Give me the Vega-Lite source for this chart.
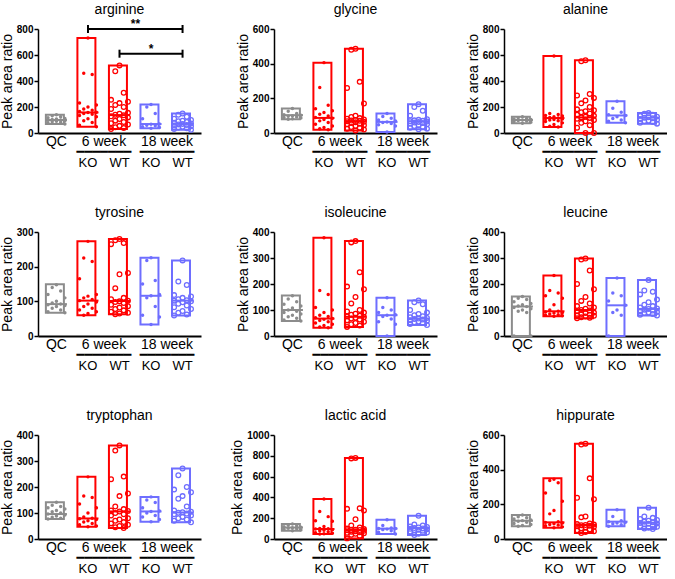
{
"$schema": "https://vega.github.io/schema/vega-lite/v6.json",
"padding": {"left": 0, "top": 3, "right": 0, "bottom": 0},
"columns": 3,
"spacing": {"row": 37, "column": 29},
"datasets": {
"box": [
{"m":"arginine","g":"Q","lo":70,"hi":140,"med":100},{"m":"arginine","g":"K6","lo":48,"hi":731,"med":158},{"m":"arginine","g":"W6","lo":30,"hi":520,"med":138},{"m":"arginine","g":"K18","lo":36,"hi":220,"med":69},{"m":"arginine","g":"W18","lo":25,"hi":150,"med":70},
{"m":"glycine","g":"Q","lo":79,"hi":141,"med":103},{"m":"glycine","g":"K6","lo":19,"hi":406,"med":87},{"m":"glycine","g":"W6","lo":15,"hi":486,"med":68},{"m":"glycine","g":"K18","lo":6,"hi":112,"med":64},{"m":"glycine","g":"W18","lo":21,"hi":166,"med":68},
{"m":"alanine","g":"Q","lo":75,"hi":125,"med":100},{"m":"alanine","g":"K6","lo":46,"hi":592,"med":115},{"m":"alanine","g":"W6","lo":0,"hi":560,"med":120},{"m":"alanine","g":"K18","lo":79,"hi":245,"med":135},{"m":"alanine","g":"W18","lo":72,"hi":153,"med":118},
{"m":"tyrosine","g":"Q","lo":67,"hi":149,"med":92},{"m":"tyrosine","g":"K6","lo":60,"hi":273,"med":102},{"m":"tyrosine","g":"W6","lo":63,"hi":280,"med":101},{"m":"tyrosine","g":"K18","lo":33,"hi":226,"med":116},{"m":"tyrosine","g":"W18","lo":59,"hi":218,"med":102},
{"m":"isoleucine","g":"Q","lo":58,"hi":156,"med":100},{"m":"isoleucine","g":"K6","lo":32,"hi":378,"med":67},{"m":"isoleucine","g":"W6","lo":35,"hi":365,"med":74},{"m":"isoleucine","g":"K18","lo":0,"hi":147,"med":80},{"m":"isoleucine","g":"W18","lo":42,"hi":137,"med":67},
{"m":"leucine","g":"Q","lo":0,"hi":152,"med":113},{"m":"leucine","g":"K6","lo":76,"hi":233,"med":95},{"m":"leucine","g":"W6","lo":68,"hi":298,"med":100},{"m":"leucine","g":"K18","lo":0,"hi":223,"med":118},{"m":"leucine","g":"W18","lo":79,"hi":215,"med":104},
{"m":"tryptophan","g":"Q","lo":77,"hi":141,"med":96},{"m":"tryptophan","g":"K6","lo":47,"hi":239,"med":79},{"m":"tryptophan","g":"W6","lo":42,"hi":360,"med":106},{"m":"tryptophan","g":"K18","lo":66,"hi":162,"med":106},{"m":"tryptophan","g":"W18","lo":64,"hi":271,"med":102},
{"m":"lactic","g":"Q","lo":80,"hi":144,"med":110},{"m":"lactic","g":"K6","lo":48,"hi":385,"med":96},{"m":"lactic","g":"W6","lo":6,"hi":780,"med":87},{"m":"lactic","g":"K18","lo":48,"hi":186,"med":100},{"m":"lactic","g":"W18","lo":38,"hi":224,"med":106},
{"m":"hippurate","g":"Q","lo":73,"hi":138,"med":106},{"m":"hippurate","g":"K6","lo":65,"hi":350,"med":96},{"m":"hippurate","g":"W6","lo":35,"hi":550,"med":81},{"m":"hippurate","g":"K18","lo":73,"hi":169,"med":100},{"m":"hippurate","g":"W18","lo":58,"hi":181,"med":94}
],
"sig": [{"a":"K6","b":"W18","y":800,"t":"**","c":"W6"},{"a":"W6","b":"W18","y":610,"t":"*","c":"K18"}],
"arginine": [
{"g":"Q","v":140},{"g":"Q","v":132},{"g":"Q","v":125},{"g":"Q","v":118},{"g":"Q","v":112},{"g":"Q","v":108},{"g":"Q","v":104},{"g":"Q","v":100},{"g":"Q","v":97},{"g":"Q","v":94},{"g":"Q","v":90},{"g":"Q","v":86},{"g":"Q","v":82},{"g":"Q","v":76},{"g":"Q","v":70},
{"g":"K6","v":731},{"g":"K6","v":460},{"g":"K6","v":450},{"g":"K6","v":230},{"g":"K6","v":215},{"g":"K6","v":200},{"g":"K6","v":185},{"g":"K6","v":175},{"g":"K6","v":165},{"g":"K6","v":160},{"g":"K6","v":158},{"g":"K6","v":150},{"g":"K6","v":145},{"g":"K6","v":135},{"g":"K6","v":125},{"g":"K6","v":110},{"g":"K6","v":95},{"g":"K6","v":80},{"g":"K6","v":60},{"g":"K6","v":48},
{"g":"W6","v":520},{"g":"W6","v":475},{"g":"W6","v":310},{"g":"W6","v":255},{"g":"W6","v":240},{"g":"W6","v":230},{"g":"W6","v":215},{"g":"W6","v":200},{"g":"W6","v":185},{"g":"W6","v":155},{"g":"W6","v":148},{"g":"W6","v":140},{"g":"W6","v":136},{"g":"W6","v":128},{"g":"W6","v":120},{"g":"W6","v":108},{"g":"W6","v":95},{"g":"W6","v":85},{"g":"W6","v":75},{"g":"W6","v":65},{"g":"W6","v":55},{"g":"W6","v":45},{"g":"W6","v":38},{"g":"W6","v":30},
{"g":"K18","v":220},{"g":"K18","v":200},{"g":"K18","v":150},{"g":"K18","v":110},{"g":"K18","v":70},{"g":"K18","v":68},{"g":"K18","v":60},{"g":"K18","v":55},{"g":"K18","v":48},{"g":"K18","v":42},{"g":"K18","v":36},
{"g":"W18","v":150},{"g":"W18","v":140},{"g":"W18","v":125},{"g":"W18","v":110},{"g":"W18","v":100},{"g":"W18","v":95},{"g":"W18","v":90},{"g":"W18","v":85},{"g":"W18","v":78},{"g":"W18","v":74},{"g":"W18","v":70},{"g":"W18","v":66},{"g":"W18","v":62},{"g":"W18","v":58},{"g":"W18","v":52},{"g":"W18","v":48},{"g":"W18","v":42},{"g":"W18","v":36},{"g":"W18","v":30},{"g":"W18","v":25}
],
"glycine": [
{"g":"Q","v":141},{"g":"Q","v":125},{"g":"Q","v":112},{"g":"Q","v":106},{"g":"Q","v":103},{"g":"Q","v":100},{"g":"Q","v":97},{"g":"Q","v":93},{"g":"Q","v":90},{"g":"Q","v":86},{"g":"Q","v":82},{"g":"Q","v":79},
{"g":"K6","v":406},{"g":"K6","v":262},{"g":"K6","v":160},{"g":"K6","v":140},{"g":"K6","v":128},{"g":"K6","v":118},{"g":"K6","v":108},{"g":"K6","v":98},{"g":"K6","v":90},{"g":"K6","v":85},{"g":"K6","v":78},{"g":"K6","v":70},{"g":"K6","v":60},{"g":"K6","v":50},{"g":"K6","v":40},{"g":"K6","v":32},{"g":"K6","v":25},{"g":"K6","v":19},
{"g":"W6","v":486},{"g":"W6","v":480},{"g":"W6","v":295},{"g":"W6","v":260},{"g":"W6","v":170},{"g":"W6","v":100},{"g":"W6","v":92},{"g":"W6","v":86},{"g":"W6","v":82},{"g":"W6","v":78},{"g":"W6","v":75},{"g":"W6","v":72},{"g":"W6","v":70},{"g":"W6","v":68},{"g":"W6","v":65},{"g":"W6","v":62},{"g":"W6","v":58},{"g":"W6","v":54},{"g":"W6","v":50},{"g":"W6","v":45},{"g":"W6","v":40},{"g":"W6","v":35},{"g":"W6","v":30},{"g":"W6","v":25},{"g":"W6","v":20},{"g":"W6","v":15},
{"g":"K18","v":112},{"g":"K18","v":95},{"g":"K18","v":85},{"g":"K18","v":75},{"g":"K18","v":70},{"g":"K18","v":64},{"g":"K18","v":60},{"g":"K18","v":55},{"g":"K18","v":48},{"g":"K18","v":40},{"g":"K18","v":6},
{"g":"W18","v":166},{"g":"W18","v":150},{"g":"W18","v":128},{"g":"W18","v":100},{"g":"W18","v":80},{"g":"W18","v":76},{"g":"W18","v":73},{"g":"W18","v":70},{"g":"W18","v":68},{"g":"W18","v":66},{"g":"W18","v":63},{"g":"W18","v":60},{"g":"W18","v":57},{"g":"W18","v":54},{"g":"W18","v":50},{"g":"W18","v":45},{"g":"W18","v":40},{"g":"W18","v":35},{"g":"W18","v":30},{"g":"W18","v":25},{"g":"W18","v":21}
],
"alanine": [
{"g":"Q","v":125},{"g":"Q","v":118},{"g":"Q","v":112},{"g":"Q","v":108},{"g":"Q","v":104},{"g":"Q","v":100},{"g":"Q","v":96},{"g":"Q","v":92},{"g":"Q","v":88},{"g":"Q","v":82},{"g":"Q","v":75},
{"g":"K6","v":592},{"g":"K6","v":150},{"g":"K6","v":142},{"g":"K6","v":135},{"g":"K6","v":130},{"g":"K6","v":125},{"g":"K6","v":120},{"g":"K6","v":116},{"g":"K6","v":112},{"g":"K6","v":108},{"g":"K6","v":104},{"g":"K6","v":100},{"g":"K6","v":95},{"g":"K6","v":88},{"g":"K6","v":78},{"g":"K6","v":65},{"g":"K6","v":52},{"g":"K6","v":46},
{"g":"W6","v":560},{"g":"W6","v":552},{"g":"W6","v":300},{"g":"W6","v":288},{"g":"W6","v":270},{"g":"W6","v":250},{"g":"W6","v":228},{"g":"W6","v":200},{"g":"W6","v":182},{"g":"W6","v":175},{"g":"W6","v":168},{"g":"W6","v":160},{"g":"W6","v":150},{"g":"W6","v":140},{"g":"W6","v":132},{"g":"W6","v":125},{"g":"W6","v":120},{"g":"W6","v":116},{"g":"W6","v":110},{"g":"W6","v":100},{"g":"W6","v":90},{"g":"W6","v":78},{"g":"W6","v":60},{"g":"W6","v":40},{"g":"W6","v":0},{"g":"W6","v":0},
{"g":"K18","v":245},{"g":"K18","v":190},{"g":"K18","v":160},{"g":"K18","v":140},{"g":"K18","v":135},{"g":"K18","v":125},{"g":"K18","v":112},{"g":"K18","v":100},{"g":"K18","v":90},{"g":"K18","v":79},
{"g":"W18","v":153},{"g":"W18","v":148},{"g":"W18","v":140},{"g":"W18","v":132},{"g":"W18","v":126},{"g":"W18","v":121},{"g":"W18","v":118},{"g":"W18","v":114},{"g":"W18","v":108},{"g":"W18","v":102},{"g":"W18","v":96},{"g":"W18","v":90},{"g":"W18","v":84},{"g":"W18","v":78},{"g":"W18","v":72}
],
"tyrosine": [
{"g":"Q","v":148},{"g":"Q","v":140},{"g":"Q","v":130},{"g":"Q","v":120},{"g":"Q","v":110},{"g":"Q","v":100},{"g":"Q","v":95},{"g":"Q","v":92},{"g":"Q","v":90},{"g":"Q","v":88},{"g":"Q","v":85},{"g":"Q","v":80},{"g":"Q","v":75},{"g":"Q","v":70},{"g":"Q","v":67},
{"g":"K6","v":273},{"g":"K6","v":225},{"g":"K6","v":215},{"g":"K6","v":165},{"g":"K6","v":120},{"g":"K6","v":115},{"g":"K6","v":110},{"g":"K6","v":105},{"g":"K6","v":102},{"g":"K6","v":98},{"g":"K6","v":92},{"g":"K6","v":85},{"g":"K6","v":80},{"g":"K6","v":75},{"g":"K6","v":70},{"g":"K6","v":65},{"g":"K6","v":60},
{"g":"W6","v":280},{"g":"W6","v":276},{"g":"W6","v":268},{"g":"W6","v":265},{"g":"W6","v":182},{"g":"W6","v":178},{"g":"W6","v":138},{"g":"W6","v":110},{"g":"W6","v":106},{"g":"W6","v":102},{"g":"W6","v":100},{"g":"W6","v":98},{"g":"W6","v":95},{"g":"W6","v":90},{"g":"W6","v":86},{"g":"W6","v":82},{"g":"W6","v":78},{"g":"W6","v":74},{"g":"W6","v":70},{"g":"W6","v":67},{"g":"W6","v":65},{"g":"W6","v":63},
{"g":"K18","v":226},{"g":"K18","v":218},{"g":"K18","v":160},{"g":"K18","v":150},{"g":"K18","v":120},{"g":"K18","v":116},{"g":"K18","v":110},{"g":"K18","v":85},{"g":"K18","v":60},{"g":"K18","v":55},{"g":"K18","v":33},
{"g":"W18","v":218},{"g":"W18","v":157},{"g":"W18","v":147},{"g":"W18","v":118},{"g":"W18","v":114},{"g":"W18","v":110},{"g":"W18","v":106},{"g":"W18","v":103},{"g":"W18","v":102},{"g":"W18","v":100},{"g":"W18","v":97},{"g":"W18","v":93},{"g":"W18","v":88},{"g":"W18","v":83},{"g":"W18","v":78},{"g":"W18","v":72},{"g":"W18","v":67},{"g":"W18","v":62},{"g":"W18","v":59}
],
"isoleucine": [
{"g":"Q","v":155},{"g":"Q","v":142},{"g":"Q","v":132},{"g":"Q","v":122},{"g":"Q","v":115},{"g":"Q","v":108},{"g":"Q","v":100},{"g":"Q","v":95},{"g":"Q","v":90},{"g":"Q","v":85},{"g":"Q","v":80},{"g":"Q","v":74},{"g":"Q","v":68},{"g":"Q","v":62},{"g":"Q","v":58},
{"g":"K6","v":378},{"g":"K6","v":175},{"g":"K6","v":160},{"g":"K6","v":110},{"g":"K6","v":100},{"g":"K6","v":90},{"g":"K6","v":80},{"g":"K6","v":75},{"g":"K6","v":70},{"g":"K6","v":67},{"g":"K6","v":64},{"g":"K6","v":60},{"g":"K6","v":55},{"g":"K6","v":50},{"g":"K6","v":45},{"g":"K6","v":40},{"g":"K6","v":35},{"g":"K6","v":32},
{"g":"W6","v":365},{"g":"W6","v":360},{"g":"W6","v":245},{"g":"W6","v":190},{"g":"W6","v":180},{"g":"W6","v":150},{"g":"W6","v":125},{"g":"W6","v":100},{"g":"W6","v":94},{"g":"W6","v":90},{"g":"W6","v":86},{"g":"W6","v":82},{"g":"W6","v":78},{"g":"W6","v":75},{"g":"W6","v":73},{"g":"W6","v":70},{"g":"W6","v":67},{"g":"W6","v":63},{"g":"W6","v":60},{"g":"W6","v":55},{"g":"W6","v":50},{"g":"W6","v":45},{"g":"W6","v":40},{"g":"W6","v":35},
{"g":"K18","v":147},{"g":"K18","v":110},{"g":"K18","v":100},{"g":"K18","v":90},{"g":"K18","v":82},{"g":"K18","v":80},{"g":"K18","v":75},{"g":"K18","v":65},{"g":"K18","v":55},{"g":"K18","v":45},{"g":"K18","v":0},
{"g":"W18","v":137},{"g":"W18","v":130},{"g":"W18","v":122},{"g":"W18","v":100},{"g":"W18","v":90},{"g":"W18","v":85},{"g":"W18","v":80},{"g":"W18","v":76},{"g":"W18","v":72},{"g":"W18","v":69},{"g":"W18","v":67},{"g":"W18","v":65},{"g":"W18","v":63},{"g":"W18","v":61},{"g":"W18","v":59},{"g":"W18","v":56},{"g":"W18","v":53},{"g":"W18","v":50},{"g":"W18","v":46},{"g":"W18","v":42}
],
"leucine": [
{"g":"Q","v":152},{"g":"Q","v":145},{"g":"Q","v":140},{"g":"Q","v":132},{"g":"Q","v":125},{"g":"Q","v":120},{"g":"Q","v":115},{"g":"Q","v":113},{"g":"Q","v":110},{"g":"Q","v":105},{"g":"Q","v":100},{"g":"Q","v":95},{"g":"Q","v":90},{"g":"Q","v":0},{"g":"Q","v":0},
{"g":"K6","v":233},{"g":"K6","v":175},{"g":"K6","v":165},{"g":"K6","v":155},{"g":"K6","v":145},{"g":"K6","v":120},{"g":"K6","v":100},{"g":"K6","v":95},{"g":"K6","v":92},{"g":"K6","v":90},{"g":"K6","v":88},{"g":"K6","v":85},{"g":"K6","v":82},{"g":"K6","v":80},{"g":"K6","v":78},{"g":"K6","v":76},
{"g":"W6","v":298},{"g":"W6","v":294},{"g":"W6","v":252},{"g":"W6","v":200},{"g":"W6","v":180},{"g":"W6","v":150},{"g":"W6","v":135},{"g":"W6","v":125},{"g":"W6","v":115},{"g":"W6","v":110},{"g":"W6","v":105},{"g":"W6","v":100},{"g":"W6","v":98},{"g":"W6","v":95},{"g":"W6","v":90},{"g":"W6","v":88},{"g":"W6","v":85},{"g":"W6","v":82},{"g":"W6","v":80},{"g":"W6","v":78},{"g":"W6","v":75},{"g":"W6","v":72},{"g":"W6","v":70},{"g":"W6","v":68},
{"g":"K18","v":223},{"g":"K18","v":165},{"g":"K18","v":155},{"g":"K18","v":135},{"g":"K18","v":118},{"g":"K18","v":100},{"g":"K18","v":90},{"g":"K18","v":80},{"g":"K18","v":0},
{"g":"W18","v":215},{"g":"W18","v":175},{"g":"W18","v":170},{"g":"W18","v":160},{"g":"W18","v":140},{"g":"W18","v":130},{"g":"W18","v":120},{"g":"W18","v":115},{"g":"W18","v":110},{"g":"W18","v":106},{"g":"W18","v":104},{"g":"W18","v":101},{"g":"W18","v":98},{"g":"W18","v":95},{"g":"W18","v":92},{"g":"W18","v":90},{"g":"W18","v":88},{"g":"W18","v":85},{"g":"W18","v":82},{"g":"W18","v":79}
],
"tryptophan": [
{"g":"Q","v":141},{"g":"Q","v":130},{"g":"Q","v":125},{"g":"Q","v":120},{"g":"Q","v":115},{"g":"Q","v":110},{"g":"Q","v":105},{"g":"Q","v":100},{"g":"Q","v":96},{"g":"Q","v":92},{"g":"Q","v":88},{"g":"Q","v":84},{"g":"Q","v":80},{"g":"Q","v":77},
{"g":"K6","v":239},{"g":"K6","v":165},{"g":"K6","v":160},{"g":"K6","v":135},{"g":"K6","v":120},{"g":"K6","v":100},{"g":"K6","v":85},{"g":"K6","v":80},{"g":"K6","v":78},{"g":"K6","v":75},{"g":"K6","v":70},{"g":"K6","v":65},{"g":"K6","v":60},{"g":"K6","v":55},{"g":"K6","v":50},{"g":"K6","v":47},
{"g":"W6","v":360},{"g":"W6","v":340},{"g":"W6","v":240},{"g":"W6","v":230},{"g":"W6","v":175},{"g":"W6","v":165},{"g":"W6","v":125},{"g":"W6","v":115},{"g":"W6","v":110},{"g":"W6","v":108},{"g":"W6","v":106},{"g":"W6","v":100},{"g":"W6","v":95},{"g":"W6","v":90},{"g":"W6","v":80},{"g":"W6","v":75},{"g":"W6","v":70},{"g":"W6","v":65},{"g":"W6","v":60},{"g":"W6","v":55},{"g":"W6","v":50},{"g":"W6","v":45},{"g":"W6","v":42},
{"g":"K18","v":162},{"g":"K18","v":150},{"g":"K18","v":140},{"g":"K18","v":120},{"g":"K18","v":108},{"g":"K18","v":106},{"g":"K18","v":100},{"g":"K18","v":90},{"g":"K18","v":85},{"g":"K18","v":75},{"g":"K18","v":66},
{"g":"W18","v":271},{"g":"W18","v":245},{"g":"W18","v":200},{"g":"W18","v":190},{"g":"W18","v":180},{"g":"W18","v":165},{"g":"W18","v":155},{"g":"W18","v":125},{"g":"W18","v":110},{"g":"W18","v":105},{"g":"W18","v":103},{"g":"W18","v":101},{"g":"W18","v":98},{"g":"W18","v":95},{"g":"W18","v":90},{"g":"W18","v":85},{"g":"W18","v":80},{"g":"W18","v":75},{"g":"W18","v":70},{"g":"W18","v":64}
],
"lactic": [
{"g":"Q","v":144},{"g":"Q","v":132},{"g":"Q","v":124},{"g":"Q","v":118},{"g":"Q","v":112},{"g":"Q","v":108},{"g":"Q","v":104},{"g":"Q","v":98},{"g":"Q","v":92},{"g":"Q","v":86},{"g":"Q","v":80},
{"g":"K6","v":385},{"g":"K6","v":265},{"g":"K6","v":215},{"g":"K6","v":175},{"g":"K6","v":170},{"g":"K6","v":120},{"g":"K6","v":100},{"g":"K6","v":98},{"g":"K6","v":96},{"g":"K6","v":90},{"g":"K6","v":85},{"g":"K6","v":80},{"g":"K6","v":70},{"g":"K6","v":60},{"g":"K6","v":55},{"g":"K6","v":50},{"g":"K6","v":48},
{"g":"W6","v":780},{"g":"W6","v":775},{"g":"W6","v":295},{"g":"W6","v":290},{"g":"W6","v":275},{"g":"W6","v":190},{"g":"W6","v":130},{"g":"W6","v":110},{"g":"W6","v":100},{"g":"W6","v":95},{"g":"W6","v":90},{"g":"W6","v":88},{"g":"W6","v":87},{"g":"W6","v":85},{"g":"W6","v":80},{"g":"W6","v":75},{"g":"W6","v":70},{"g":"W6","v":65},{"g":"W6","v":60},{"g":"W6","v":55},{"g":"W6","v":50},{"g":"W6","v":40},{"g":"W6","v":30},{"g":"W6","v":6},
{"g":"K18","v":186},{"g":"K18","v":130},{"g":"K18","v":105},{"g":"K18","v":100},{"g":"K18","v":100},{"g":"K18","v":95},{"g":"K18","v":90},{"g":"K18","v":80},{"g":"K18","v":65},{"g":"K18","v":48},
{"g":"W18","v":224},{"g":"W18","v":140},{"g":"W18","v":130},{"g":"W18","v":120},{"g":"W18","v":115},{"g":"W18","v":110},{"g":"W18","v":106},{"g":"W18","v":102},{"g":"W18","v":98},{"g":"W18","v":94},{"g":"W18","v":90},{"g":"W18","v":85},{"g":"W18","v":80},{"g":"W18","v":72},{"g":"W18","v":62},{"g":"W18","v":50},{"g":"W18","v":38}
],
"hippurate": [
{"g":"Q","v":138},{"g":"Q","v":128},{"g":"Q","v":122},{"g":"Q","v":116},{"g":"Q","v":110},{"g":"Q","v":106},{"g":"Q","v":102},{"g":"Q","v":96},{"g":"Q","v":90},{"g":"Q","v":84},{"g":"Q","v":78},{"g":"Q","v":73},
{"g":"K6","v":345},{"g":"K6","v":338},{"g":"K6","v":325},{"g":"K6","v":265},{"g":"K6","v":218},{"g":"K6","v":165},{"g":"K6","v":145},{"g":"K6","v":100},{"g":"K6","v":96},{"g":"K6","v":92},{"g":"K6","v":88},{"g":"K6","v":84},{"g":"K6","v":80},{"g":"K6","v":76},{"g":"K6","v":70},{"g":"K6","v":65},
{"g":"W6","v":550},{"g":"W6","v":545},{"g":"W6","v":350},{"g":"W6","v":238},{"g":"W6","v":230},{"g":"W6","v":130},{"g":"W6","v":125},{"g":"W6","v":90},{"g":"W6","v":86},{"g":"W6","v":83},{"g":"W6","v":81},{"g":"W6","v":79},{"g":"W6","v":77},{"g":"W6","v":74},{"g":"W6","v":71},{"g":"W6","v":67},{"g":"W6","v":62},{"g":"W6","v":56},{"g":"W6","v":50},{"g":"W6","v":45},{"g":"W6","v":40},{"g":"W6","v":35},
{"g":"K18","v":169},{"g":"K18","v":130},{"g":"K18","v":105},{"g":"K18","v":100},{"g":"K18","v":96},{"g":"K18","v":92},{"g":"K18","v":88},{"g":"K18","v":82},{"g":"K18","v":73},
{"g":"W18","v":181},{"g":"W18","v":130},{"g":"W18","v":122},{"g":"W18","v":116},{"g":"W18","v":110},{"g":"W18","v":105},{"g":"W18","v":100},{"g":"W18","v":96},{"g":"W18","v":93},{"g":"W18","v":90},{"g":"W18","v":88},{"g":"W18","v":85},{"g":"W18","v":80},{"g":"W18","v":75},{"g":"W18","v":70},{"g":"W18","v":65},{"g":"W18","v":60},{"g":"W18","v":58}
]
},
"concat": [
{"title": {"text": "arginine", "offset": 1}, "width": 163, "height": 104, "resolve": {"axis": {"x": "independent"}},
 "layer": [
  {"data": {"name": "box"}, "transform": [{"filter": "datum.m=='arginine'"}], "mark": {"type": "bar", "filled": false, "strokeWidth": 2},
   "encoding": {"x": {"field": "g", "type": "nominal", "scale": {"domain": ["Q","K6","W6","K18","W18"], "paddingInner": 0.33, "paddingOuter": 0.25}, "axis": {"orient": "bottom", "title": null, "domain": true, "domainWidth": 2, "labelFontSize": 14, "labelPadding": 1, "labelExpr": "datum.value=='Q' ? 'QC' : datum.value=='K6' ? '6 week' : datum.value=='K18' ? '18 week' : ''", "labelOffset": {"condition": {"test": "datum.value=='Q'", "value": 0}, "value": 16}}},
    "y": {"field": "lo", "type": "quantitative", "title": "Peak area ratio", "scale": {"domain": [0, 800], "nice": false}, "axis": {"format": "d"}}, "y2": {"field": "hi"},
    "color": {"field": "g", "type": "nominal", "scale": {"domain": ["Q","K6","W6","K18","W18"], "range": ["#8c8c8c","#ff0000","#ff0000","#6e6eff","#6e6eff"]}}}},
  {"data": {"name": "box"}, "transform": [{"filter": "datum.m=='arginine'"}], "mark": {"type": "tick", "thickness": 2, "size": 21, "opacity": 1},
   "encoding": {"x": {"field": "g", "type": "nominal", "axis": {"orient": "bottom", "title": null, "offset": 10, "labelPadding": 2, "labelFont": "DejaVu Sans", "labelFontSize": 13, "labelOffset": 16, "labelExpr": "datum.value=='K6' || datum.value=='K18' ? '━━━━━━━' : ''"}}, "y": {"field": "med", "type": "quantitative", "title": "Peak area ratio"}, "color": {"field": "g", "type": "nominal"}}},
  {"data": {"name": "arginine"}, "transform": [{"filter": "datum.g!='W6' && datum.g!='W18'"}, {"window": [{"op": "row_number", "as": "r"}], "groupby": ["g"], "sort": [{"field": "v", "order": "descending"}]}, {"calculate": "(datum.r-1)%5", "as": "j"}], "mark": {"type": "point", "shape": "circle", "filled": true, "size": 12, "opacity": 1},
   "encoding": {"x": {"field": "g", "type": "nominal", "axis": null}, "xOffset": {"field": "j", "type": "nominal", "scale": {"domain": [3,1,0,2,4]}}, "y": {"field": "v", "type": "quantitative", "title": "Peak area ratio"}, "color": {"field": "g", "type": "nominal"}}},
  {"data": {"name": "arginine"}, "transform": [{"filter": "datum.g=='W6' || datum.g=='W18'"}, {"window": [{"op": "row_number", "as": "r"}], "groupby": ["g"], "sort": [{"field": "v", "order": "descending"}]}, {"calculate": "(datum.r-1)%5", "as": "j"}], "mark": {"type": "point", "shape": "circle", "filled": false, "size": 22, "strokeWidth": 1.3, "opacity": 1},
   "encoding": {"x": {"field": "g", "type": "nominal", "axis": {"orient": "bottom", "title": null, "offset": 21, "labelPadding": 2, "labelFontSize": 13, "labelExpr": "datum.value=='Q' ? '' : (datum.value=='K6' || datum.value=='K18') ? 'KO' : 'WT'"}}, "xOffset": {"field": "j", "type": "nominal"}, "y": {"field": "v", "type": "quantitative", "title": "Peak area ratio"}, "color": {"field": "g", "type": "nominal"}}},
  {"data": {"name": "sig"}, "mark": {"type": "rule", "strokeWidth": 2, "color": "black"},
   "encoding": {"x": {"field": "a", "type": "nominal", "axis": null}, "x2": {"field": "b"}, "y": {"field": "y", "type": "quantitative", "title": "Peak area ratio"}}},
  {"data": {"name": "sig"}, "transform": [{"fold": ["a","b"], "as": ["k","gg"]}], "mark": {"type": "point", "shape": "M0,-1L0,1", "size": 64, "strokeWidth": 2, "color": "black", "filled": false, "opacity": 1},
   "encoding": {"x": {"field": "gg", "type": "nominal", "axis": null}, "y": {"field": "y", "type": "quantitative", "title": "Peak area ratio"}}},
  {"data": {"name": "sig"}, "transform": [{"filter": "datum.t=='**'"}], "mark": {"type": "text", "dx": 16, "dy": -1, "baseline": "alphabetic", "fontSize": 12, "fontWeight": "bold", "color": "black"},
   "encoding": {"x": {"field": "c", "type": "nominal", "axis": null}, "y": {"field": "y", "type": "quantitative", "title": "Peak area ratio"}, "text": {"field": "t"}}},
  {"data": {"name": "sig"}, "transform": [{"filter": "datum.t=='*'"}], "mark": {"type": "text", "dx": 0, "dy": -1, "baseline": "alphabetic", "fontSize": 12, "fontWeight": "bold", "color": "black"},
   "encoding": {"x": {"field": "c", "type": "nominal", "axis": null}, "y": {"field": "y", "type": "quantitative", "title": "Peak area ratio"}, "text": {"field": "t"}}}
 ]},
{"title": "glycine", "width": 163, "height": 104, "resolve": {"axis": {"x": "independent"}},
 "layer": [
  {"data": {"name": "box"}, "transform": [{"filter": "datum.m=='glycine'"}], "mark": {"type": "bar", "filled": false, "strokeWidth": 2},
   "encoding": {"x": {"field": "g", "type": "nominal", "scale": {"domain": ["Q","K6","W6","K18","W18"], "paddingInner": 0.33, "paddingOuter": 0.25}, "axis": {"orient": "bottom", "title": null, "domain": true, "domainWidth": 2, "labelFontSize": 14, "labelPadding": 1, "labelExpr": "datum.value=='Q' ? 'QC' : datum.value=='K6' ? '6 week' : datum.value=='K18' ? '18 week' : ''", "labelOffset": {"condition": {"test": "datum.value=='Q'", "value": 0}, "value": 16}}},
    "y": {"field": "lo", "type": "quantitative", "title": "Peak area ratio", "scale": {"domain": [0, 600], "nice": false}, "axis": {"format": "d"}}, "y2": {"field": "hi"},
    "color": {"field": "g", "type": "nominal", "scale": {"domain": ["Q","K6","W6","K18","W18"], "range": ["#8c8c8c","#ff0000","#ff0000","#6e6eff","#6e6eff"]}}}},
  {"data": {"name": "box"}, "transform": [{"filter": "datum.m=='glycine'"}], "mark": {"type": "tick", "thickness": 2, "size": 21, "opacity": 1},
   "encoding": {"x": {"field": "g", "type": "nominal", "axis": {"orient": "bottom", "title": null, "offset": 10, "labelPadding": 2, "labelFont": "DejaVu Sans", "labelFontSize": 13, "labelOffset": 16, "labelExpr": "datum.value=='K6' || datum.value=='K18' ? '━━━━━━━' : ''"}}, "y": {"field": "med", "type": "quantitative", "title": "Peak area ratio"}, "color": {"field": "g", "type": "nominal"}}},
  {"data": {"name": "glycine"}, "transform": [{"filter": "datum.g!='W6' && datum.g!='W18'"}, {"window": [{"op": "row_number", "as": "r"}], "groupby": ["g"], "sort": [{"field": "v", "order": "descending"}]}, {"calculate": "(datum.r-1)%5", "as": "j"}], "mark": {"type": "point", "shape": "circle", "filled": true, "size": 12, "opacity": 1},
   "encoding": {"x": {"field": "g", "type": "nominal", "axis": null}, "xOffset": {"field": "j", "type": "nominal", "scale": {"domain": [3,1,0,2,4]}}, "y": {"field": "v", "type": "quantitative", "title": "Peak area ratio"}, "color": {"field": "g", "type": "nominal"}}},
  {"data": {"name": "glycine"}, "transform": [{"filter": "datum.g=='W6' || datum.g=='W18'"}, {"window": [{"op": "row_number", "as": "r"}], "groupby": ["g"], "sort": [{"field": "v", "order": "descending"}]}, {"calculate": "(datum.r-1)%5", "as": "j"}], "mark": {"type": "point", "shape": "circle", "filled": false, "size": 22, "strokeWidth": 1.3, "opacity": 1},
   "encoding": {"x": {"field": "g", "type": "nominal", "axis": {"orient": "bottom", "title": null, "offset": 21, "labelPadding": 2, "labelFontSize": 13, "labelExpr": "datum.value=='Q' ? '' : (datum.value=='K6' || datum.value=='K18') ? 'KO' : 'WT'"}}, "xOffset": {"field": "j", "type": "nominal"}, "y": {"field": "v", "type": "quantitative", "title": "Peak area ratio"}, "color": {"field": "g", "type": "nominal"}}}
 ]},
{"title": "alanine", "width": 163, "height": 104, "resolve": {"axis": {"x": "independent"}},
 "layer": [
  {"data": {"name": "box"}, "transform": [{"filter": "datum.m=='alanine'"}], "mark": {"type": "bar", "filled": false, "strokeWidth": 2},
   "encoding": {"x": {"field": "g", "type": "nominal", "scale": {"domain": ["Q","K6","W6","K18","W18"], "paddingInner": 0.33, "paddingOuter": 0.25}, "axis": {"orient": "bottom", "title": null, "domain": true, "domainWidth": 2, "labelFontSize": 14, "labelPadding": 1, "labelExpr": "datum.value=='Q' ? 'QC' : datum.value=='K6' ? '6 week' : datum.value=='K18' ? '18 week' : ''", "labelOffset": {"condition": {"test": "datum.value=='Q'", "value": 0}, "value": 16}}},
    "y": {"field": "lo", "type": "quantitative", "title": "Peak area ratio", "scale": {"domain": [0, 800], "nice": false}, "axis": {"format": "d"}}, "y2": {"field": "hi"},
    "color": {"field": "g", "type": "nominal", "scale": {"domain": ["Q","K6","W6","K18","W18"], "range": ["#8c8c8c","#ff0000","#ff0000","#6e6eff","#6e6eff"]}}}},
  {"data": {"name": "box"}, "transform": [{"filter": "datum.m=='alanine'"}], "mark": {"type": "tick", "thickness": 2, "size": 21, "opacity": 1},
   "encoding": {"x": {"field": "g", "type": "nominal", "axis": {"orient": "bottom", "title": null, "offset": 10, "labelPadding": 2, "labelFont": "DejaVu Sans", "labelFontSize": 13, "labelOffset": 16, "labelExpr": "datum.value=='K6' || datum.value=='K18' ? '━━━━━━━' : ''"}}, "y": {"field": "med", "type": "quantitative", "title": "Peak area ratio"}, "color": {"field": "g", "type": "nominal"}}},
  {"data": {"name": "alanine"}, "transform": [{"filter": "datum.g!='W6' && datum.g!='W18'"}, {"window": [{"op": "row_number", "as": "r"}], "groupby": ["g"], "sort": [{"field": "v", "order": "descending"}]}, {"calculate": "(datum.r-1)%5", "as": "j"}], "mark": {"type": "point", "shape": "circle", "filled": true, "size": 12, "opacity": 1},
   "encoding": {"x": {"field": "g", "type": "nominal", "axis": null}, "xOffset": {"field": "j", "type": "nominal", "scale": {"domain": [3,1,0,2,4]}}, "y": {"field": "v", "type": "quantitative", "title": "Peak area ratio"}, "color": {"field": "g", "type": "nominal"}}},
  {"data": {"name": "alanine"}, "transform": [{"filter": "datum.g=='W6' || datum.g=='W18'"}, {"window": [{"op": "row_number", "as": "r"}], "groupby": ["g"], "sort": [{"field": "v", "order": "descending"}]}, {"calculate": "(datum.r-1)%5", "as": "j"}], "mark": {"type": "point", "shape": "circle", "filled": false, "size": 22, "strokeWidth": 1.3, "opacity": 1},
   "encoding": {"x": {"field": "g", "type": "nominal", "axis": {"orient": "bottom", "title": null, "offset": 21, "labelPadding": 2, "labelFontSize": 13, "labelExpr": "datum.value=='Q' ? '' : (datum.value=='K6' || datum.value=='K18') ? 'KO' : 'WT'"}}, "xOffset": {"field": "j", "type": "nominal"}, "y": {"field": "v", "type": "quantitative", "title": "Peak area ratio"}, "color": {"field": "g", "type": "nominal"}}}
 ]},
{"title": "tyrosine", "width": 163, "height": 104, "resolve": {"axis": {"x": "independent"}},
 "layer": [
  {"data": {"name": "box"}, "transform": [{"filter": "datum.m=='tyrosine'"}], "mark": {"type": "bar", "filled": false, "strokeWidth": 2},
   "encoding": {"x": {"field": "g", "type": "nominal", "scale": {"domain": ["Q","K6","W6","K18","W18"], "paddingInner": 0.33, "paddingOuter": 0.25}, "axis": {"orient": "bottom", "title": null, "domain": true, "domainWidth": 2, "labelFontSize": 14, "labelPadding": 1, "labelExpr": "datum.value=='Q' ? 'QC' : datum.value=='K6' ? '6 week' : datum.value=='K18' ? '18 week' : ''", "labelOffset": {"condition": {"test": "datum.value=='Q'", "value": 0}, "value": 16}}},
    "y": {"field": "lo", "type": "quantitative", "title": "Peak area ratio", "scale": {"domain": [0, 300], "nice": false}, "axis": {"format": "d"}}, "y2": {"field": "hi"},
    "color": {"field": "g", "type": "nominal", "scale": {"domain": ["Q","K6","W6","K18","W18"], "range": ["#8c8c8c","#ff0000","#ff0000","#6e6eff","#6e6eff"]}}}},
  {"data": {"name": "box"}, "transform": [{"filter": "datum.m=='tyrosine'"}], "mark": {"type": "tick", "thickness": 2, "size": 21, "opacity": 1},
   "encoding": {"x": {"field": "g", "type": "nominal", "axis": {"orient": "bottom", "title": null, "offset": 10, "labelPadding": 2, "labelFont": "DejaVu Sans", "labelFontSize": 13, "labelOffset": 16, "labelExpr": "datum.value=='K6' || datum.value=='K18' ? '━━━━━━━' : ''"}}, "y": {"field": "med", "type": "quantitative", "title": "Peak area ratio"}, "color": {"field": "g", "type": "nominal"}}},
  {"data": {"name": "tyrosine"}, "transform": [{"filter": "datum.g!='W6' && datum.g!='W18'"}, {"window": [{"op": "row_number", "as": "r"}], "groupby": ["g"], "sort": [{"field": "v", "order": "descending"}]}, {"calculate": "(datum.r-1)%5", "as": "j"}], "mark": {"type": "point", "shape": "circle", "filled": true, "size": 12, "opacity": 1},
   "encoding": {"x": {"field": "g", "type": "nominal", "axis": null}, "xOffset": {"field": "j", "type": "nominal", "scale": {"domain": [3,1,0,2,4]}}, "y": {"field": "v", "type": "quantitative", "title": "Peak area ratio"}, "color": {"field": "g", "type": "nominal"}}},
  {"data": {"name": "tyrosine"}, "transform": [{"filter": "datum.g=='W6' || datum.g=='W18'"}, {"window": [{"op": "row_number", "as": "r"}], "groupby": ["g"], "sort": [{"field": "v", "order": "descending"}]}, {"calculate": "(datum.r-1)%5", "as": "j"}], "mark": {"type": "point", "shape": "circle", "filled": false, "size": 22, "strokeWidth": 1.3, "opacity": 1},
   "encoding": {"x": {"field": "g", "type": "nominal", "axis": {"orient": "bottom", "title": null, "offset": 21, "labelPadding": 2, "labelFontSize": 13, "labelExpr": "datum.value=='Q' ? '' : (datum.value=='K6' || datum.value=='K18') ? 'KO' : 'WT'"}}, "xOffset": {"field": "j", "type": "nominal"}, "y": {"field": "v", "type": "quantitative", "title": "Peak area ratio"}, "color": {"field": "g", "type": "nominal"}}}
 ]},
{"title": "isoleucine", "width": 163, "height": 104, "resolve": {"axis": {"x": "independent"}},
 "layer": [
  {"data": {"name": "box"}, "transform": [{"filter": "datum.m=='isoleucine'"}], "mark": {"type": "bar", "filled": false, "strokeWidth": 2},
   "encoding": {"x": {"field": "g", "type": "nominal", "scale": {"domain": ["Q","K6","W6","K18","W18"], "paddingInner": 0.33, "paddingOuter": 0.25}, "axis": {"orient": "bottom", "title": null, "domain": true, "domainWidth": 2, "labelFontSize": 14, "labelPadding": 1, "labelExpr": "datum.value=='Q' ? 'QC' : datum.value=='K6' ? '6 week' : datum.value=='K18' ? '18 week' : ''", "labelOffset": {"condition": {"test": "datum.value=='Q'", "value": 0}, "value": 16}}},
    "y": {"field": "lo", "type": "quantitative", "title": "Peak area ratio", "scale": {"domain": [0, 400], "nice": false}, "axis": {"format": "d"}}, "y2": {"field": "hi"},
    "color": {"field": "g", "type": "nominal", "scale": {"domain": ["Q","K6","W6","K18","W18"], "range": ["#8c8c8c","#ff0000","#ff0000","#6e6eff","#6e6eff"]}}}},
  {"data": {"name": "box"}, "transform": [{"filter": "datum.m=='isoleucine'"}], "mark": {"type": "tick", "thickness": 2, "size": 21, "opacity": 1},
   "encoding": {"x": {"field": "g", "type": "nominal", "axis": {"orient": "bottom", "title": null, "offset": 10, "labelPadding": 2, "labelFont": "DejaVu Sans", "labelFontSize": 13, "labelOffset": 16, "labelExpr": "datum.value=='K6' || datum.value=='K18' ? '━━━━━━━' : ''"}}, "y": {"field": "med", "type": "quantitative", "title": "Peak area ratio"}, "color": {"field": "g", "type": "nominal"}}},
  {"data": {"name": "isoleucine"}, "transform": [{"filter": "datum.g!='W6' && datum.g!='W18'"}, {"window": [{"op": "row_number", "as": "r"}], "groupby": ["g"], "sort": [{"field": "v", "order": "descending"}]}, {"calculate": "(datum.r-1)%5", "as": "j"}], "mark": {"type": "point", "shape": "circle", "filled": true, "size": 12, "opacity": 1},
   "encoding": {"x": {"field": "g", "type": "nominal", "axis": null}, "xOffset": {"field": "j", "type": "nominal", "scale": {"domain": [3,1,0,2,4]}}, "y": {"field": "v", "type": "quantitative", "title": "Peak area ratio"}, "color": {"field": "g", "type": "nominal"}}},
  {"data": {"name": "isoleucine"}, "transform": [{"filter": "datum.g=='W6' || datum.g=='W18'"}, {"window": [{"op": "row_number", "as": "r"}], "groupby": ["g"], "sort": [{"field": "v", "order": "descending"}]}, {"calculate": "(datum.r-1)%5", "as": "j"}], "mark": {"type": "point", "shape": "circle", "filled": false, "size": 22, "strokeWidth": 1.3, "opacity": 1},
   "encoding": {"x": {"field": "g", "type": "nominal", "axis": {"orient": "bottom", "title": null, "offset": 21, "labelPadding": 2, "labelFontSize": 13, "labelExpr": "datum.value=='Q' ? '' : (datum.value=='K6' || datum.value=='K18') ? 'KO' : 'WT'"}}, "xOffset": {"field": "j", "type": "nominal"}, "y": {"field": "v", "type": "quantitative", "title": "Peak area ratio"}, "color": {"field": "g", "type": "nominal"}}}
 ]},
{"title": "leucine", "width": 163, "height": 104, "resolve": {"axis": {"x": "independent"}},
 "layer": [
  {"data": {"name": "box"}, "transform": [{"filter": "datum.m=='leucine'"}], "mark": {"type": "bar", "filled": false, "strokeWidth": 2},
   "encoding": {"x": {"field": "g", "type": "nominal", "scale": {"domain": ["Q","K6","W6","K18","W18"], "paddingInner": 0.33, "paddingOuter": 0.25}, "axis": {"orient": "bottom", "title": null, "domain": true, "domainWidth": 2, "labelFontSize": 14, "labelPadding": 1, "labelExpr": "datum.value=='Q' ? 'QC' : datum.value=='K6' ? '6 week' : datum.value=='K18' ? '18 week' : ''", "labelOffset": {"condition": {"test": "datum.value=='Q'", "value": 0}, "value": 16}}},
    "y": {"field": "lo", "type": "quantitative", "title": "Peak area ratio", "scale": {"domain": [0, 400], "nice": false}, "axis": {"format": "d"}}, "y2": {"field": "hi"},
    "color": {"field": "g", "type": "nominal", "scale": {"domain": ["Q","K6","W6","K18","W18"], "range": ["#8c8c8c","#ff0000","#ff0000","#6e6eff","#6e6eff"]}}}},
  {"data": {"name": "box"}, "transform": [{"filter": "datum.m=='leucine'"}], "mark": {"type": "tick", "thickness": 2, "size": 21, "opacity": 1},
   "encoding": {"x": {"field": "g", "type": "nominal", "axis": {"orient": "bottom", "title": null, "offset": 10, "labelPadding": 2, "labelFont": "DejaVu Sans", "labelFontSize": 13, "labelOffset": 16, "labelExpr": "datum.value=='K6' || datum.value=='K18' ? '━━━━━━━' : ''"}}, "y": {"field": "med", "type": "quantitative", "title": "Peak area ratio"}, "color": {"field": "g", "type": "nominal"}}},
  {"data": {"name": "leucine"}, "transform": [{"filter": "datum.g!='W6' && datum.g!='W18'"}, {"window": [{"op": "row_number", "as": "r"}], "groupby": ["g"], "sort": [{"field": "v", "order": "descending"}]}, {"calculate": "(datum.r-1)%5", "as": "j"}], "mark": {"type": "point", "shape": "circle", "filled": true, "size": 12, "opacity": 1},
   "encoding": {"x": {"field": "g", "type": "nominal", "axis": null}, "xOffset": {"field": "j", "type": "nominal", "scale": {"domain": [3,1,0,2,4]}}, "y": {"field": "v", "type": "quantitative", "title": "Peak area ratio"}, "color": {"field": "g", "type": "nominal"}}},
  {"data": {"name": "leucine"}, "transform": [{"filter": "datum.g=='W6' || datum.g=='W18'"}, {"window": [{"op": "row_number", "as": "r"}], "groupby": ["g"], "sort": [{"field": "v", "order": "descending"}]}, {"calculate": "(datum.r-1)%5", "as": "j"}], "mark": {"type": "point", "shape": "circle", "filled": false, "size": 22, "strokeWidth": 1.3, "opacity": 1},
   "encoding": {"x": {"field": "g", "type": "nominal", "axis": {"orient": "bottom", "title": null, "offset": 21, "labelPadding": 2, "labelFontSize": 13, "labelExpr": "datum.value=='Q' ? '' : (datum.value=='K6' || datum.value=='K18') ? 'KO' : 'WT'"}}, "xOffset": {"field": "j", "type": "nominal"}, "y": {"field": "v", "type": "quantitative", "title": "Peak area ratio"}, "color": {"field": "g", "type": "nominal"}}}
 ]},
{"title": "tryptophan", "width": 163, "height": 104, "resolve": {"axis": {"x": "independent"}},
 "layer": [
  {"data": {"name": "box"}, "transform": [{"filter": "datum.m=='tryptophan'"}], "mark": {"type": "bar", "filled": false, "strokeWidth": 2},
   "encoding": {"x": {"field": "g", "type": "nominal", "scale": {"domain": ["Q","K6","W6","K18","W18"], "paddingInner": 0.33, "paddingOuter": 0.25}, "axis": {"orient": "bottom", "title": null, "domain": true, "domainWidth": 2, "labelFontSize": 14, "labelPadding": 1, "labelExpr": "datum.value=='Q' ? 'QC' : datum.value=='K6' ? '6 week' : datum.value=='K18' ? '18 week' : ''", "labelOffset": {"condition": {"test": "datum.value=='Q'", "value": 0}, "value": 16}}},
    "y": {"field": "lo", "type": "quantitative", "title": "Peak area ratio", "scale": {"domain": [0, 400], "nice": false}, "axis": {"format": "d"}}, "y2": {"field": "hi"},
    "color": {"field": "g", "type": "nominal", "scale": {"domain": ["Q","K6","W6","K18","W18"], "range": ["#8c8c8c","#ff0000","#ff0000","#6e6eff","#6e6eff"]}}}},
  {"data": {"name": "box"}, "transform": [{"filter": "datum.m=='tryptophan'"}], "mark": {"type": "tick", "thickness": 2, "size": 21, "opacity": 1},
   "encoding": {"x": {"field": "g", "type": "nominal", "axis": {"orient": "bottom", "title": null, "offset": 10, "labelPadding": 2, "labelFont": "DejaVu Sans", "labelFontSize": 13, "labelOffset": 16, "labelExpr": "datum.value=='K6' || datum.value=='K18' ? '━━━━━━━' : ''"}}, "y": {"field": "med", "type": "quantitative", "title": "Peak area ratio"}, "color": {"field": "g", "type": "nominal"}}},
  {"data": {"name": "tryptophan"}, "transform": [{"filter": "datum.g!='W6' && datum.g!='W18'"}, {"window": [{"op": "row_number", "as": "r"}], "groupby": ["g"], "sort": [{"field": "v", "order": "descending"}]}, {"calculate": "(datum.r-1)%5", "as": "j"}], "mark": {"type": "point", "shape": "circle", "filled": true, "size": 12, "opacity": 1},
   "encoding": {"x": {"field": "g", "type": "nominal", "axis": null}, "xOffset": {"field": "j", "type": "nominal", "scale": {"domain": [3,1,0,2,4]}}, "y": {"field": "v", "type": "quantitative", "title": "Peak area ratio"}, "color": {"field": "g", "type": "nominal"}}},
  {"data": {"name": "tryptophan"}, "transform": [{"filter": "datum.g=='W6' || datum.g=='W18'"}, {"window": [{"op": "row_number", "as": "r"}], "groupby": ["g"], "sort": [{"field": "v", "order": "descending"}]}, {"calculate": "(datum.r-1)%5", "as": "j"}], "mark": {"type": "point", "shape": "circle", "filled": false, "size": 22, "strokeWidth": 1.3, "opacity": 1},
   "encoding": {"x": {"field": "g", "type": "nominal", "axis": {"orient": "bottom", "title": null, "offset": 21, "labelPadding": 2, "labelFontSize": 13, "labelExpr": "datum.value=='Q' ? '' : (datum.value=='K6' || datum.value=='K18') ? 'KO' : 'WT'"}}, "xOffset": {"field": "j", "type": "nominal"}, "y": {"field": "v", "type": "quantitative", "title": "Peak area ratio"}, "color": {"field": "g", "type": "nominal"}}}
 ]},
{"title": "lactic acid", "width": 163, "height": 104, "resolve": {"axis": {"x": "independent"}},
 "layer": [
  {"data": {"name": "box"}, "transform": [{"filter": "datum.m=='lactic'"}], "mark": {"type": "bar", "filled": false, "strokeWidth": 2},
   "encoding": {"x": {"field": "g", "type": "nominal", "scale": {"domain": ["Q","K6","W6","K18","W18"], "paddingInner": 0.33, "paddingOuter": 0.25}, "axis": {"orient": "bottom", "title": null, "domain": true, "domainWidth": 2, "labelFontSize": 14, "labelPadding": 1, "labelExpr": "datum.value=='Q' ? 'QC' : datum.value=='K6' ? '6 week' : datum.value=='K18' ? '18 week' : ''", "labelOffset": {"condition": {"test": "datum.value=='Q'", "value": 0}, "value": 16}}},
    "y": {"field": "lo", "type": "quantitative", "title": "Peak area ratio", "scale": {"domain": [0, 1000], "nice": false}, "axis": {"format": "d"}}, "y2": {"field": "hi"},
    "color": {"field": "g", "type": "nominal", "scale": {"domain": ["Q","K6","W6","K18","W18"], "range": ["#8c8c8c","#ff0000","#ff0000","#6e6eff","#6e6eff"]}}}},
  {"data": {"name": "box"}, "transform": [{"filter": "datum.m=='lactic'"}], "mark": {"type": "tick", "thickness": 2, "size": 21, "opacity": 1},
   "encoding": {"x": {"field": "g", "type": "nominal", "axis": {"orient": "bottom", "title": null, "offset": 10, "labelPadding": 2, "labelFont": "DejaVu Sans", "labelFontSize": 13, "labelOffset": 16, "labelExpr": "datum.value=='K6' || datum.value=='K18' ? '━━━━━━━' : ''"}}, "y": {"field": "med", "type": "quantitative", "title": "Peak area ratio"}, "color": {"field": "g", "type": "nominal"}}},
  {"data": {"name": "lactic"}, "transform": [{"filter": "datum.g!='W6' && datum.g!='W18'"}, {"window": [{"op": "row_number", "as": "r"}], "groupby": ["g"], "sort": [{"field": "v", "order": "descending"}]}, {"calculate": "(datum.r-1)%5", "as": "j"}], "mark": {"type": "point", "shape": "circle", "filled": true, "size": 12, "opacity": 1},
   "encoding": {"x": {"field": "g", "type": "nominal", "axis": null}, "xOffset": {"field": "j", "type": "nominal", "scale": {"domain": [3,1,0,2,4]}}, "y": {"field": "v", "type": "quantitative", "title": "Peak area ratio"}, "color": {"field": "g", "type": "nominal"}}},
  {"data": {"name": "lactic"}, "transform": [{"filter": "datum.g=='W6' || datum.g=='W18'"}, {"window": [{"op": "row_number", "as": "r"}], "groupby": ["g"], "sort": [{"field": "v", "order": "descending"}]}, {"calculate": "(datum.r-1)%5", "as": "j"}], "mark": {"type": "point", "shape": "circle", "filled": false, "size": 22, "strokeWidth": 1.3, "opacity": 1},
   "encoding": {"x": {"field": "g", "type": "nominal", "axis": {"orient": "bottom", "title": null, "offset": 21, "labelPadding": 2, "labelFontSize": 13, "labelExpr": "datum.value=='Q' ? '' : (datum.value=='K6' || datum.value=='K18') ? 'KO' : 'WT'"}}, "xOffset": {"field": "j", "type": "nominal"}, "y": {"field": "v", "type": "quantitative", "title": "Peak area ratio"}, "color": {"field": "g", "type": "nominal"}}}
 ]},
{"title": "hippurate", "width": 163, "height": 104, "resolve": {"axis": {"x": "independent"}},
 "layer": [
  {"data": {"name": "box"}, "transform": [{"filter": "datum.m=='hippurate'"}], "mark": {"type": "bar", "filled": false, "strokeWidth": 2},
   "encoding": {"x": {"field": "g", "type": "nominal", "scale": {"domain": ["Q","K6","W6","K18","W18"], "paddingInner": 0.33, "paddingOuter": 0.25}, "axis": {"orient": "bottom", "title": null, "domain": true, "domainWidth": 2, "labelFontSize": 14, "labelPadding": 1, "labelExpr": "datum.value=='Q' ? 'QC' : datum.value=='K6' ? '6 week' : datum.value=='K18' ? '18 week' : ''", "labelOffset": {"condition": {"test": "datum.value=='Q'", "value": 0}, "value": 16}}},
    "y": {"field": "lo", "type": "quantitative", "title": "Peak area ratio", "scale": {"domain": [0, 600], "nice": false}, "axis": {"format": "d"}}, "y2": {"field": "hi"},
    "color": {"field": "g", "type": "nominal", "scale": {"domain": ["Q","K6","W6","K18","W18"], "range": ["#8c8c8c","#ff0000","#ff0000","#6e6eff","#6e6eff"]}}}},
  {"data": {"name": "box"}, "transform": [{"filter": "datum.m=='hippurate'"}], "mark": {"type": "tick", "thickness": 2, "size": 21, "opacity": 1},
   "encoding": {"x": {"field": "g", "type": "nominal", "axis": {"orient": "bottom", "title": null, "offset": 10, "labelPadding": 2, "labelFont": "DejaVu Sans", "labelFontSize": 13, "labelOffset": 16, "labelExpr": "datum.value=='K6' || datum.value=='K18' ? '━━━━━━━' : ''"}}, "y": {"field": "med", "type": "quantitative", "title": "Peak area ratio"}, "color": {"field": "g", "type": "nominal"}}},
  {"data": {"name": "hippurate"}, "transform": [{"filter": "datum.g!='W6' && datum.g!='W18'"}, {"window": [{"op": "row_number", "as": "r"}], "groupby": ["g"], "sort": [{"field": "v", "order": "descending"}]}, {"calculate": "(datum.r-1)%5", "as": "j"}], "mark": {"type": "point", "shape": "circle", "filled": true, "size": 12, "opacity": 1},
   "encoding": {"x": {"field": "g", "type": "nominal", "axis": null}, "xOffset": {"field": "j", "type": "nominal", "scale": {"domain": [3,1,0,2,4]}}, "y": {"field": "v", "type": "quantitative", "title": "Peak area ratio"}, "color": {"field": "g", "type": "nominal"}}},
  {"data": {"name": "hippurate"}, "transform": [{"filter": "datum.g=='W6' || datum.g=='W18'"}, {"window": [{"op": "row_number", "as": "r"}], "groupby": ["g"], "sort": [{"field": "v", "order": "descending"}]}, {"calculate": "(datum.r-1)%5", "as": "j"}], "mark": {"type": "point", "shape": "circle", "filled": false, "size": 22, "strokeWidth": 1.3, "opacity": 1},
   "encoding": {"x": {"field": "g", "type": "nominal", "axis": {"orient": "bottom", "title": null, "offset": 21, "labelPadding": 2, "labelFontSize": 13, "labelExpr": "datum.value=='Q' ? '' : (datum.value=='K6' || datum.value=='K18') ? 'KO' : 'WT'"}}, "xOffset": {"field": "j", "type": "nominal"}, "y": {"field": "v", "type": "quantitative", "title": "Peak area ratio"}, "color": {"field": "g", "type": "nominal"}}}
 ]}
],
"config": {
 "font": "Liberation Sans",
 "view": {"stroke": null},
 "legend": {"disable": true},
 "axis": {"grid": false, "labelColor": "black", "titleColor": "black", "domainColor": "black", "tickColor": "black"},
 "axisX": {"ticks": false, "tickSize": 0, "domain": false, "labelAngle": 0, "labelOverlap": false, "labelBound": false},
 "axisY": {"tickCount": 4, "domainWidth": 1.5, "tickWidth": 1.5, "tickSize": 4, "labelFontSize": 10, "labelFontWeight": "bold", "labelPadding": 1, "titleFontSize": 14, "titleFontWeight": "normal", "titlePadding": 2},
 "title": {"fontSize": 14, "fontWeight": "normal", "color": "black", "frame": "group", "anchor": "middle", "offset": 7}
}
}
